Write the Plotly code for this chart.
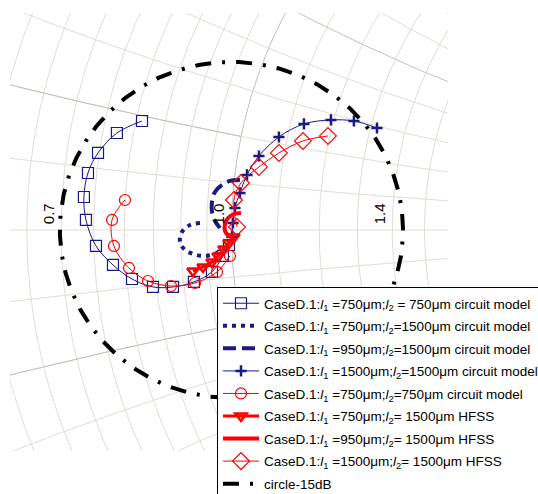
import numpy as np
import plotly.graph_objects as go

# ---------------- Smith-chart grid values (normalized) ----------------
r_grid = [0.55, 0.6, 0.65, 0.7, 0.75, 0.8, 0.85, 0.9, 0.95, 1.0,
          1.1, 1.2, 1.3, 1.4, 1.5, 1.6, 1.7]
x_grid = [0.0, 0.1, 0.2, 0.3, 0.4, 0.5, 0.6, 0.7, 0.8, 0.9, 1.0]
r_labels = [0.7, 1.0, 1.4]
circle_db = -15

# ---------------- data: reflection coefficient (real, imag) ----------------
s1_re = [-0.0927, -0.1187, -0.1383, -0.1487, -0.1529, -0.1508, -0.1404, -0.1228,
         -0.1031, -0.0813, -0.0606, -0.0389, -0.0202, -0.0088, -0.0026]
s1_im = [0.1153, 0.1026, 0.0815, 0.0603, 0.0349, 0.0106, -0.0169, -0.0370,
         -0.0519, -0.0603, -0.0603, -0.0550, -0.0444, -0.0275, -0.0159]

s2_re = [-0.0326, -0.0430, -0.0513, -0.0534, -0.0492, -0.0399, -0.0275, -0.0150, -0.0057, -0.0016]
s2_im = [0.0074, 0.0053, -0.0021, -0.0116, -0.0201, -0.0254, -0.0275, -0.0243, -0.0180, -0.0106]

s3_re = [0.0088, -0.0016, -0.0098, -0.0171, -0.0202, -0.0202, -0.0171, -0.0119]
s3_im = [0.0529, 0.0519, 0.0476, 0.0402, 0.0296, 0.0190, 0.0095, 0.0021]

s4_re = [0.0005, 0.0016, 0.0036, 0.0088, 0.0161, 0.0285, 0.0492, 0.0751, 0.1031, 0.1269, 0.1508]
s4_im = [-0.0074, 0.0074, 0.0233, 0.0392, 0.0582, 0.0783, 0.0984, 0.1122, 0.1164, 0.1153, 0.1079]

s5_re = [-0.1104, -0.1238, -0.1218, -0.1062, -0.0865, -0.0627, -0.0378, -0.0150, -0.0016]
s5_im = [0.0317, 0.0106, -0.0169, -0.0402, -0.0540, -0.0593, -0.0561, -0.0444, -0.0275]

s6_re = [-0.0399, -0.0295, -0.0202, -0.0140, -0.0078, -0.0026, 0.0026]
s6_im = [-0.0434, -0.0392, -0.0339, -0.0275, -0.0201, -0.0138, -0.0074]

s7_re = [0.0098, 0.0026, -0.0036, -0.0067, -0.0067, -0.0026, 0.0026]
s7_im = [0.0180, 0.0169, 0.0127, 0.0063, -0.0011, -0.0063, -0.0085]

s8_re = [0.1000, 0.0741, 0.0492, 0.0285, 0.0098, 0.0026, 0.0057]
s8_im = [0.0995, 0.0942, 0.0815, 0.0667, 0.0497, 0.0317, 0.0032]

names = [
    "CaseD.1:<i>l</i><sub>1</sub> =750μm;<i>l</i><sub>2</sub> = 750μm circuit model",
    "CaseD.1:<i>l</i><sub>1</sub> =750μm;<i>l</i><sub>2</sub>=1500μm circuit model",
    "CaseD.1:<i>l</i><sub>1</sub> =950μm;<i>l</i><sub>2</sub>=1500μm circuit model",
    "CaseD.1:<i>l</i><sub>1</sub> =1500μm;<i>l</i><sub>2</sub>=1500μm circuit model",
    "CaseD.1:<i>l</i><sub>1</sub> =750μm;<i>l</i><sub>2</sub>=750μm circuit model",
    "CaseD.1:<i>l</i><sub>1</sub> =750μm;<i>l</i><sub>2</sub>= 1500μm HFSS",
    "CaseD.1:<i>l</i><sub>1</sub> =950μm;<i>l</i><sub>2</sub>= 1500μm HFSS",
    "CaseD.1:<i>l</i><sub>1</sub> =1500μm;<i>l</i><sub>2</sub>= 1500μm HFSS",
    "circle-15dB",
]

NAVY = "#1a1a85"
RED = "#ff0000"
GRID = "#e2ddd2"
GRID_DARK = "#c2c0b8"

fig = go.Figure()


def add_grid(g, color):
    fig.add_trace(go.Scatter(x=g.real, y=g.imag, mode="lines",
                             line=dict(color=color, width=1),
                             hoverinfo="skip", showlegend=False))


# constant-resistance circles
t = np.linspace(-3, 3, 1501)
for r in r_grid:
    z = r + 1j * t
    add_grid((z - 1) / (z + 1), GRID_DARK if r == 1.0 else GRID)

# constant-reactance arcs
s = np.linspace(0, 4, 1601)
for xv in x_grid:
    for sign in ([1] if xv == 0 else [1, -1]):
        z = s + 1j * sign * xv
        add_grid((z - 1) / (z + 1), GRID_DARK if xv == 0.5 else GRID)
# darker segments
s_in = np.linspace(0, 1, 401)
for sign in [1, -1]:
    z = s_in + 1j * sign * 0.2
    add_grid((z - 1) / (z + 1), GRID_DARK)

# ---------------- data traces ----------------
spl = dict(shape="spline", smoothing=1)
fig.add_trace(go.Scatter(x=s1_re, y=s1_im, mode="lines+markers", name=names[0],
                         line=dict(color=NAVY, width=1, **spl),
                         marker=dict(symbol="square-open", size=11, color=NAVY,
                                     line=dict(width=1.2, color=NAVY))))
fig.add_trace(go.Scatter(x=s2_re, y=s2_im, mode="lines", name=names[1],
                         line=dict(color=NAVY, width=4, dash="4px,5px", **spl)))
fig.add_trace(go.Scatter(x=s3_re, y=s3_im, mode="lines", name=names[2],
                         line=dict(color=NAVY, width=4, dash="13px,6px", **spl)))
fig.add_trace(go.Scatter(x=s4_re, y=s4_im, mode="lines+markers", name=names[3],
                         line=dict(color=NAVY, width=1, **spl),
                         marker=dict(symbol="cross-thin", size=8, color=NAVY,
                                     line=dict(width=2.5, color=NAVY))))
fig.add_trace(go.Scatter(x=s5_re, y=s5_im, mode="lines+markers", name=names[4],
                         line=dict(color=RED, width=1, **spl),
                         marker=dict(symbol="circle-open", size=11, color=RED,
                                     line=dict(width=1.2, color=RED))))
fig.add_trace(go.Scatter(x=s6_re, y=s6_im, mode="lines+markers", name=names[5],
                         line=dict(color=RED, width=3, **spl),
                         marker=dict(symbol="triangle-down-open", size=10, color=RED,
                                     line=dict(width=2.5, color=RED))))
fig.add_trace(go.Scatter(x=s7_re, y=s7_im, mode="lines", name=names[6],
                         line=dict(color=RED, width=4, **spl)))
fig.add_trace(go.Scatter(x=s8_re, y=s8_im, mode="lines+markers", name=names[7],
                         line=dict(color=RED, width=1, **spl),
                         marker=dict(symbol="diamond-open", size=13, color=RED,
                                     line=dict(width=1.2, color=RED))))

rad = 10 ** (circle_db / 20)
th = np.linspace(0, 2 * np.pi, 721)
fig.add_trace(go.Scatter(x=rad * np.cos(th), y=rad * np.sin(th), mode="lines",
                         name=names[8],
                         line=dict(color="black", width=4, dash="16px,11px,3px,11px")))

# give every legend entry its own group so the rows can be spaced out
k = 0
for tr in fig.data:
    if tr.showlegend is not False:
        tr.legendgroup = f"g{k}"
        k += 1

# resistance labels on the real axis
for r in r_labels:
    fig.add_annotation(x=(r - 1) / (r + 1), y=0, xref="x", yref="y",
                       text=f"{r:.1f}", textangle=-90, showarrow=False,
                       xanchor="right", yanchor="bottom", xshift=-2, yshift=4,
                       font=dict(size=15, color="black", family="Liberation Sans"))

fig.update_xaxes(range=[-0.2295, 0.2244], showgrid=False, zeroline=False,
                 showticklabels=False, showline=False, ticks="")
fig.update_yaxes(range=[-0.2339, 0.2296], showgrid=False, zeroline=False,
                 showticklabels=False, showline=False, ticks="")

fig.update_layout(
    width=538, height=494,
    margin=dict(l=10, r=90, t=13, b=43, autoexpand=False),
    paper_bgcolor="white", plot_bgcolor="white",
    font=dict(family="Liberation Sans", size=13.5, color="black"),
    legend=dict(x=0.4726, y=0.3745, xanchor="left", yanchor="top",
                bgcolor="white", bordercolor="black", borderwidth=1,
                font=dict(size=13.5, family="Liberation Sans", color="black"),
                tracegroupgap=2, itemwidth=36),
)

fig.write_html("out.html",
               config={"displayModeBar": False},
               post_script="document.body.style.margin='0';document.body.style.padding='0';")
